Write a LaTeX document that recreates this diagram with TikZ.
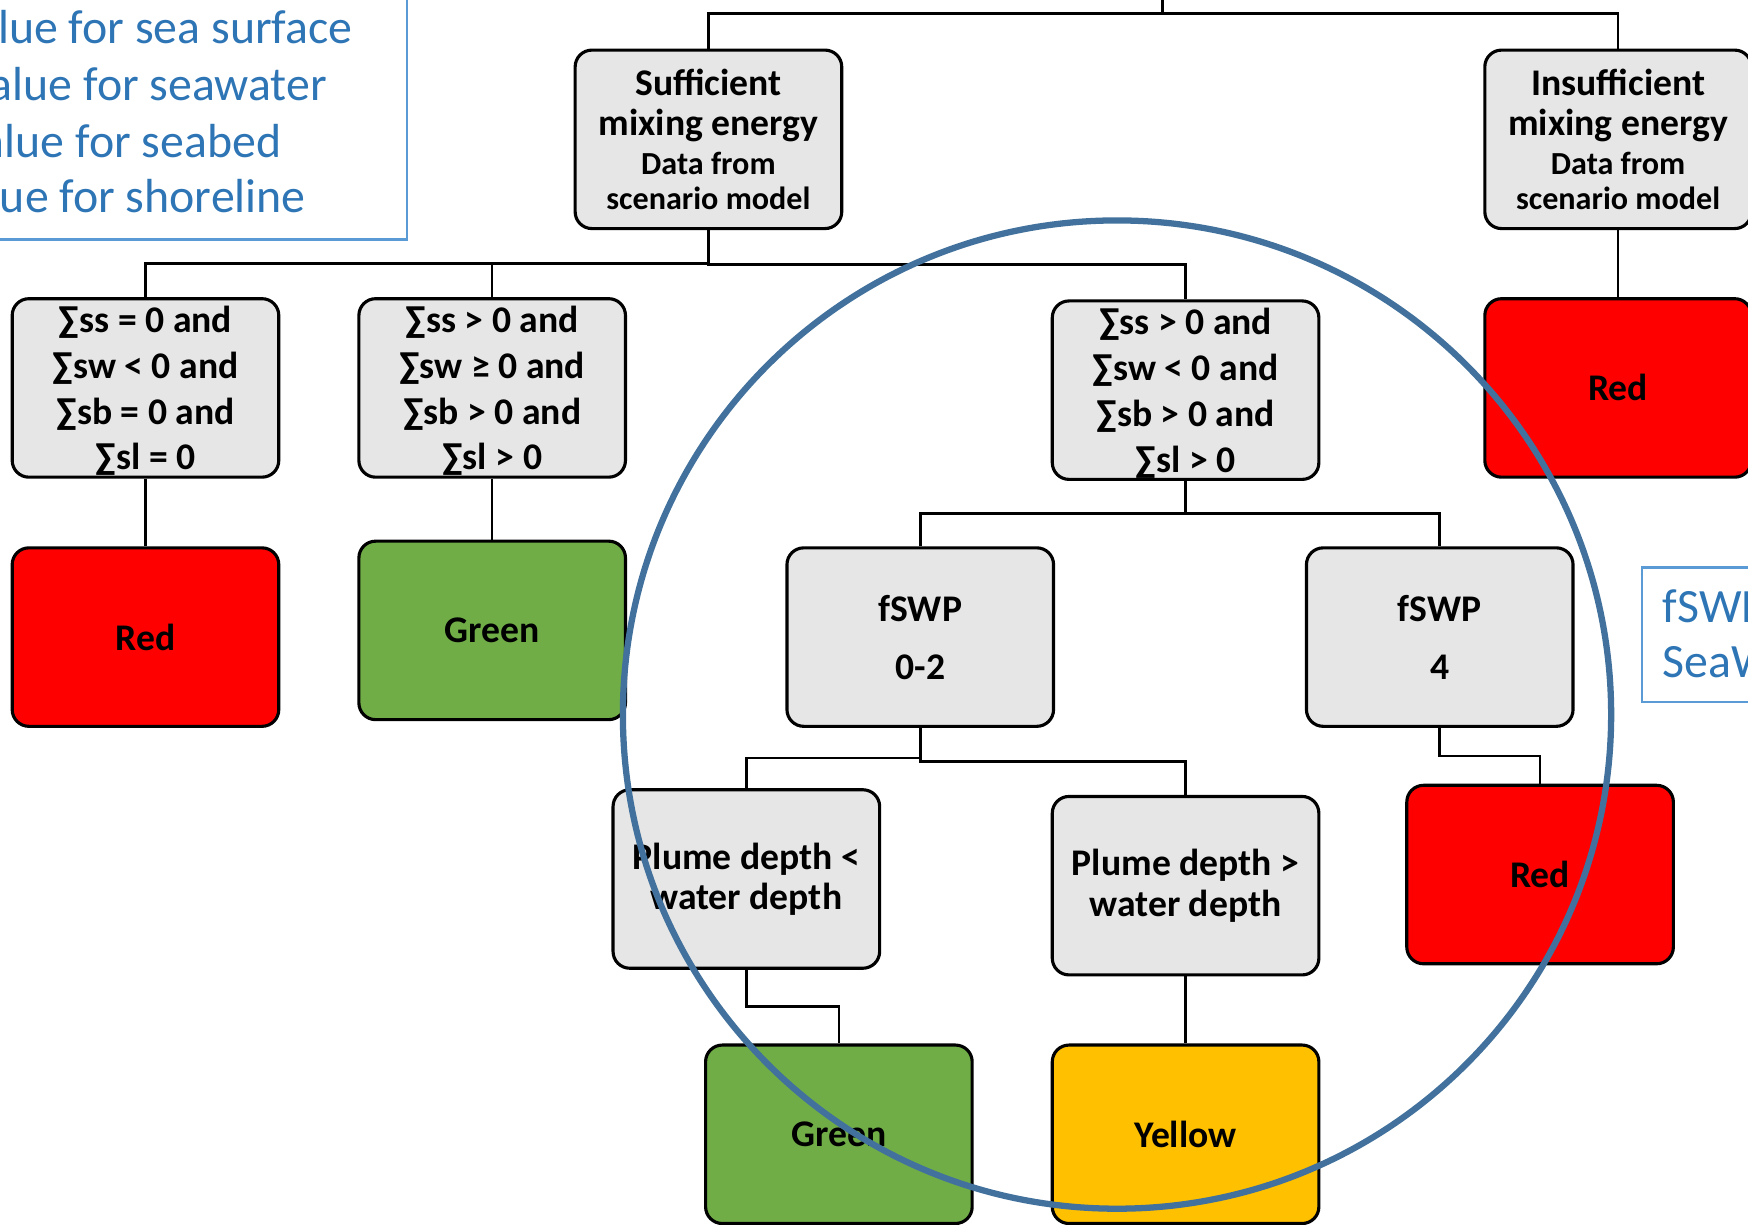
\documentclass[tikz,border=0pt]{standalone}
\usepackage{fontspec}
\setmainfont{Carlito}
\usetikzlibrary{calc}

\definecolor{boxgray}{RGB}{230,230,230}
\definecolor{okgreen}{RGB}{112,173,71}
\definecolor{warnyellow}{RGB}{255,192,0}
\definecolor{alarmred}{RGB}{255,0,0}
\definecolor{legendblue}{RGB}{46,117,182}
\definecolor{legendline}{RGB}{91,155,213}
\definecolor{ringblue}{RGB}{65,113,156}

\tikzset{
  decision/.style={draw=black, line width=0.8pt, rounded corners=0.15cm, fill=boxgray,
    minimum width=2.39cm, minimum height=1.6cm, align=center, inner sep=0pt,
    font=\bfseries\fontsize{9.6}{11.7}\selectfont},
  sums/.style={decision, text depth=-2pt},
  outcome/.style={decision, fill=#1},
  link/.style={line width=0.65pt},
  legendtext/.style={text=legendblue, inner sep=0pt, font=\fontsize{12.2}{14.8}\selectfont},
  legendbox/.style={draw=legendline, line width=0.6pt},
}
% elbow connector, bend half way between the two boxes
\newcommand{\elbow}[2]{\draw[link] (#1.south) |- ($(#1.south)!.5!(#2.north)$) -| (#2.north);}
\newcommand{\smalltxt}{\fontsize{8.2}{9}\selectfont}

\begin{document}
\begin{tikzpicture}[x=0.01cm, y=-0.01cm]
  \useasboundingbox (0,0) rectangle (1568,1098);

  % legends
  \draw[legendbox] (-20,-20) rectangle (365,215);
  \node[legendtext, anchor=base east] (leg1) at (317,39) {lue for sea surface};
  \node[legendtext, anchor=base east] (leg2) at (294,90) {alue for seawater};
  \node[legendtext, anchor=base east] (leg3) at (253,141) {alue for seabed};
  \node[legendtext, anchor=base east] (leg4) at (275,191) {lue for shoreline};

  \draw[legendbox] (1473,509) rectangle (1600,630);
  \node[legendtext, anchor=base west] (leg5) at (1491,558) {fSWP};
  \node[legendtext, anchor=base west] (leg6) at (1491,608) {SeaW};

  % mixing energy level
  \coordinate (root) at (1043,-19);
  \node[decision] (suff) at (635.5,125) {Sufficient\\[-1.3pt]mixing energy\\[-2pt]
    \smalltxt Data from\\[-2.6pt]\smalltxt scenario model};
  \node[decision] (insuff) at (1451.5,125) {Insufficient\\[-1.3pt]mixing energy\\[-2pt]
    \smalltxt Data from\\[-2.6pt]\smalltxt scenario model};
  \draw[link] (root) |- ($(root)!.5!(suff.north)$) -| (suff.north);
  \draw[link] (root) |- ($(root)!.5!(insuff.north)$) -| (insuff.north);

  % sums
  \node[sums] (sumA) at (130.5,348) {∑ss = 0 and\\∑sw < 0 and\\∑sb = 0 and\\∑sl = 0};
  \node[sums] (sumB) at (441.5,348) {∑ss > 0 and\\∑sw ≥ 0 and\\∑sb > 0 and\\∑sl > 0};
  \node[sums] (sumC) at (1063.5,350) {∑ss > 0 and\\∑sw < 0 and\\∑sb > 0 and\\∑sl > 0};
  \node[outcome=alarmred] (redI) at (1451.5,348) {Red};
  \elbow{suff}{sumA}
  \elbow{suff}{sumB}
  \elbow{suff}{sumC}
  \elbow{insuff}{redI}

  \node[outcome=alarmred] (redA) at (130.5,571.5) {Red};
  \node[outcome=okgreen] (greenB) at (441.5,565.5) {Green};
  \elbow{sumA}{redA}
  \elbow{sumB}{greenB}

  % plume factor
  \node[decision] (fswpLow) at (825.5,571.5) {fSWP\\[3.1pt]0-2};
  \node[decision] (fswpHigh) at (1291.5,571.5) {fSWP\\[3.1pt]4};
  \elbow{sumC}{fswpLow}
  \elbow{sumC}{fswpHigh}

  \node[decision, font=\bfseries\fontsize{9.6}{10.3}\selectfont] (plumeLess) at (669.5,788.5) {Plume depth <\\water depth};
  \node[decision, font=\bfseries\fontsize{9.6}{10.3}\selectfont] (plumeMore) at (1063.5,794.5) {Plume depth >\\water depth};
  \node[outcome=alarmred] (redF) at (1381.5,784.5) {Red};
  \elbow{fswpLow}{plumeLess}
  \elbow{fswpLow}{plumeMore}
  \elbow{fswpHigh}{redF}

  \node[outcome=okgreen] (greenP) at (752.5,1017.5) {Green};
  \node[outcome=warnyellow] (yellowP) at (1063.5,1017.5) {Yellow};
  \elbow{plumeLess}{greenP}
  \elbow{plumeMore}{yellowP}

  % highlight ring
  \draw[ringblue, line width=1.6pt] (1002,641) circle (4.43cm);
\end{tikzpicture}
\end{document}
